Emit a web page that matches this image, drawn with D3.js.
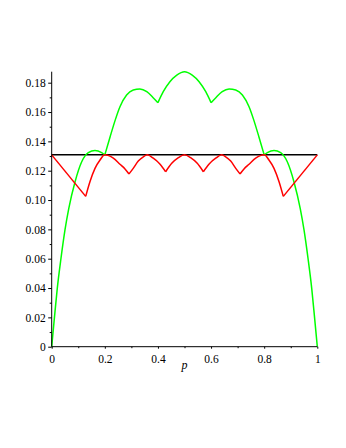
<!DOCTYPE html>
<html>
<head>
<meta charset="utf-8">
<script src="https://cdn.jsdelivr.net/npm/d3@7"></script>
<style>
  body { margin: 0; background: #fff; }
  svg text { font-family: "Liberation Serif", "Times New Roman", serif; }
</style>
</head>
<body>
<script>
// tick values and labels
const xTicks = [0, 0.2, 0.4, 0.6, 0.8, 1];
const xTickLabels = ['0', '0.2', '0.4', '0.6', '0.8', '1'];
const xMinor = [0.1, 0.3, 0.5, 0.7, 0.9];
const yTicks = [0, 0.02, 0.04, 0.06, 0.08, 0.1, 0.12, 0.14, 0.16, 0.18];
const yTickLabels = ['0', '0.02', '0.04', '0.06', '0.08', '0.10', '0.12', '0.14', '0.16', '0.18'];
const yMinor = [0.01, 0.03, 0.05, 0.07, 0.09, 0.11, 0.13, 0.15, 0.17];

// black level line
const blackP = [0, 1];
const blackV = [0.1308, 0.1308];

// green curve
const greenP = [0, 0.01, 0.021, 0.035, 0.05, 0.064, 0.088, 0.113, 0.138, 0.163, 0.188, 0.2,
  0.22, 0.24, 0.257, 0.282, 0.307, 0.332, 0.358, 0.382, 0.4,
  0.42, 0.445, 0.471, 0.5, 0.529, 0.555, 0.58, 0.6,
  0.618, 0.642, 0.668, 0.693, 0.718, 0.743, 0.76, 0.78, 0.8,
  0.812, 0.837, 0.862, 0.887, 0.912, 0.936, 0.95, 0.965, 0.979, 0.99, 1];
const greenV = [0, 0.0193, 0.0398, 0.0603, 0.0796, 0.094, 0.1125, 0.1261, 0.1323, 0.1337, 0.1323, 0.1308,
  0.1432, 0.155, 0.1636, 0.1716, 0.175, 0.1757, 0.1739, 0.1698, 0.1664,
  0.1739, 0.1807, 0.1852, 0.1875, 0.1852, 0.1807, 0.1739, 0.1664,
  0.1698, 0.1739, 0.1757, 0.175, 0.1716, 0.1636, 0.155, 0.1432, 0.1308,
  0.1323, 0.1337, 0.1323, 0.1261, 0.1125, 0.094, 0.0796, 0.0603, 0.0398, 0.0193, 0];
const greenCusps = [0.2, 0.4, 0.6, 0.8];

// red curve
const redP = [0, 0.128, 0.144, 0.163, 0.182, 0.2, 0.232, 0.257, 0.276, 0.291,
  0.307, 0.326, 0.345, 0.36, 0.3825, 0.408, 0.429, 0.452, 0.477, 0.5,
  0.523, 0.548, 0.571, 0.592, 0.6175, 0.64, 0.655, 0.674, 0.693, 0.709,
  0.724, 0.743, 0.768, 0.8, 0.818, 0.837, 0.856, 0.872, 1];
const redV = [0.1308, 0.1025, 0.1125, 0.1216, 0.1273, 0.1308, 0.1285, 0.1244, 0.1212, 0.1178,
  0.1216, 0.1266, 0.1295, 0.1308, 0.1285, 0.1244, 0.1193, 0.125, 0.1289, 0.1308,
  0.1289, 0.125, 0.1193, 0.1244, 0.1285, 0.1308, 0.1295, 0.1266, 0.1216, 0.1178,
  0.1212, 0.1244, 0.1285, 0.1308, 0.1273, 0.1216, 0.1125, 0.1025, 0.1308];
const redCusps = [0.128, 0.291, 0.429, 0.571, 0.709, 0.872];

const W = 346, H = 448;

const svg = d3.select('body').append('svg')
  .attr('width', W)
  .attr('height', H);

const x = d3.scaleLinear().domain([0, 1]).range([51.7, 317.3]);
const y = d3.scaleLinear().domain([0, 0.18]).range([346.7, 82.7]);

// splits a series at its cusps so each smooth arc is drawn on its own
function pieces(ps, vs, cusps) {
  let out = [], cur = [];
  ps.forEach((p, i) => {
    cur.push([p, vs[i]]);
    if (cusps.includes(p)) {
      out.push(cur);
      cur = [[p, vs[i]]];
    }
  });
  if (cur.length > 1) out.push(cur);
  return out;
}

const line = d3.line()
  .x(d => x(d[0]))
  .y(d => y(d[1]))
  .curve(d3.curveMonotoneX);

function drawSeries(ps, vs, cusps, color) {
  svg.append('g')
    .selectAll('path')
    .data(pieces(ps, vs, cusps)).enter()
    .append('path')
    .attr('d', line)
    .attr('fill', 'none')
    .attr('stroke', color)
    .attr('stroke-width', 1.5)
    .attr('stroke-linejoin', 'round');
}

drawSeries(blackP, blackV, [], '#000');
drawSeries(greenP, greenV, greenCusps, '#00ff00');
drawSeries(redP, redV, redCusps, '#ff0000');

// y axis
const yAxis = svg.append('g')
  .attr('transform', `translate(${x(0)},0)`)
  .call(d3.axisLeft(y).tickValues(yTicks).tickSize(3.5).tickPadding(2.5)
    .tickFormat((d, i) => yTickLabels[i]));
svg.append('g')
  .attr('transform', `translate(${x(0)},0)`)
  .call(d3.axisLeft(y).tickValues(yMinor).tickSize(2).tickFormat(''))
  .select('.domain').remove();
yAxis.select('.domain')
  .attr('d', `M0,${y(0)}V${y(0.1875)}`);

// x axis
const xAxis = svg.append('g')
  .attr('transform', `translate(0,${y(0)})`)
  .call(d3.axisBottom(x).tickValues(xTicks).tickSize(2).tickPadding(6)
    .tickFormat((d, i) => xTickLabels[i]));
svg.append('g')
  .attr('transform', `translate(0,${y(0)})`)
  .call(d3.axisBottom(x).tickValues(xMinor).tickSize(1.5).tickFormat(''))
  .select('.domain').remove();
xAxis.select('.domain')
  .attr('d', `M${x(0)},0H${x(1)}`);

svg.selectAll('g').attr('font-family', null);
svg.selectAll('.tick text')
  .style('font-size', '11.5px')
  .attr('fill', '#000');
svg.selectAll('.domain, .tick line')
  .attr('stroke', '#000');

svg.append('text')
  .attr('x', x(0.5))
  .attr('y', 369)
  .attr('text-anchor', 'middle')
  .style('font-size', '12px')
  .style('font-style', 'italic')
  .text('p');
</script>
</body>
</html>
